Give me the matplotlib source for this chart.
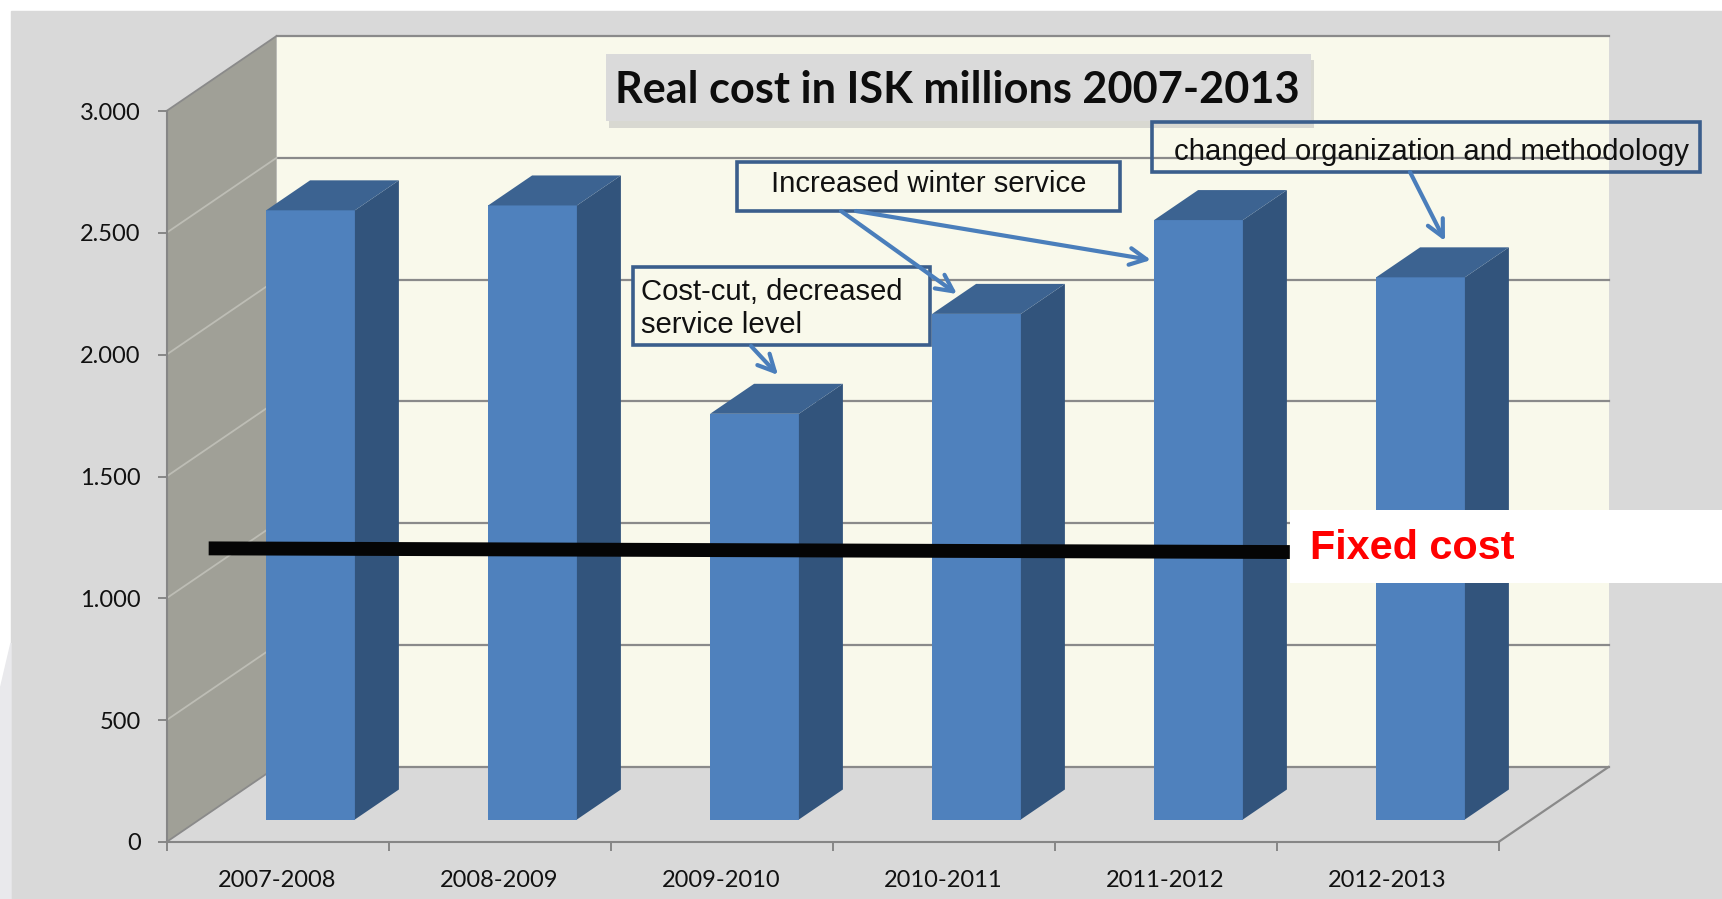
import matplotlib
matplotlib.use('Agg')
import matplotlib.pyplot as plt
from matplotlib.patches import Polygon, Rectangle
from matplotlib.ticker import FuncFormatter

plt.rcParams['font.family'] = ['Lato', 'DejaVu Sans']

seasons = ['2007-2008', '2008-2009', '2009-2010', '2010-2011', '2011-2012', '2012-2013']
real_cost = [2500, 2520, 1665, 2075, 2460, 2225]
fixed_cost = [1205, 1190]          # hand drawn line, left end / right end
y_ticks = [0, 500, 1000, 1500, 2000, 2500, 3000]

W, H = 1722, 899
fig = plt.figure(figsize=(W / 100, H / 100), dpi=100)

# pixel-space layers under and over the chart
bg = fig.add_axes([0, 0, 1, 1], zorder=0)
top = fig.add_axes([0, 0, 1, 1], zorder=2)
for a in (bg, top):
    a.set_xlim(0, W)
    a.set_ylim(H, 0)
    a.axis('off')

bg.add_patch(Rectangle((11, 11), W - 11, H - 11, color='#d9d9d9'))
bg.add_patch(Polygon([(0, 690), (11, 643), (11, H), (0, H)], color='#e9e9ec'))

# front plane of the 3d chart: x in categories, y in ISK millions
ax = fig.add_axes([166.5 / W, 1 - 842 / H, 1332 / W, 731 / H], zorder=1)
ax.set_xlim(0, 6)
ax.set_ylim(0, 3000)
ax.patch.set_visible(False)

DX = 110 / 222            # depth offset, category units
DY = 75 / 731 * 3000      # depth offset, value units
grid = '#8a8a8a'

ax.add_patch(Polygon([(0, 0), (0, 3000), (DX, 3000 + DY), (DX, DY)],
                     fc='#a0a097', ec='none', zorder=0.5, clip_on=False))
ax.add_patch(Polygon([(DX, DY), (6 + DX, DY), (6 + DX, 3000 + DY), (DX, 3000 + DY)],
                     fc='#f9f9eb', ec='none', zorder=0.5, clip_on=False))
for v in y_ticks:
    ax.plot([DX, 6 + DX], [v + DY, v + DY], color=grid, lw=1.6, zorder=0.7, clip_on=False)
    ax.plot([0, DX], [v, v + DY], color=grid if v in (0, 3000) else '#bdbdb5',
            lw=1.3, zorder=0.7, clip_on=False)
ax.plot([6, 6 + DX], [0, DY], color=grid, lw=1.6, zorder=0.7, clip_on=False)

# bars: front face with ax.bar, side and top as polygons
d0 = 0.3
bw = 0.4
base = d0 * DY
xs = [i + 0.5 - bw / 2 + d0 * DX for i in range(len(real_cost))]
ax.bar(xs, real_cost, width=bw, bottom=base, align='edge', color='#4f81bd',
       zorder=3, clip_on=False)
ddx, ddy = bw * DX, bw * DY
for x0, v in zip(xs, real_cost):
    x1 = x0 + bw
    t = base + v
    ax.add_patch(Polygon([(x1, base), (x1 + ddx, base + ddy), (x1 + ddx, t + ddy), (x1, t)],
                         fc='#32547c', ec='none', zorder=3, clip_on=False))
    ax.add_patch(Polygon([(x0, t), (x1, t), (x1 + ddx, t + ddy), (x0 + ddx, t + ddy)],
                         fc='#3c6391', ec='none', zorder=3, clip_on=False))

ax.plot([0.19, 5.06], fixed_cost, color='#050505', lw=10, solid_capstyle='butt',
        zorder=6, clip_on=False)

# axes
ax.set_yticks(y_ticks)
ax.yaxis.set_major_formatter(FuncFormatter(lambda v, p: f'{int(v):,}'.replace(',', '.')))
ax.set_xticks(range(7))
ax.set_xticklabels([])
ax.set_xticks([i + 0.5 for i in range(6)], minor=True)
ax.set_xticklabels(seasons, minor=True)
ax.tick_params(which='major', length=6.5, width=1.4, color='#868686', labelsize=17,
               labelcolor='#111111')
ax.tick_params(axis='y', pad=12)
ax.tick_params(axis='x', which='minor', length=0, pad=20, labelsize=17, labelcolor='#111111')
for s in ['top', 'right']:
    ax.spines[s].set_visible(False)
for s in ['left', 'bottom']:
    ax.spines[s].set_color('#868686')
    ax.spines[s].set_linewidth(1.5)


def fit(t, width):
    w = t.get_window_extent(fig.canvas.get_renderer()).width
    t.set_fontsize(t.get_fontsize() * width / w)


# title box with shadow
top.add_patch(Rectangle((609, 60), 705, 68, color='#b8b8b8', alpha=0.5, lw=0))
top.add_patch(Rectangle((606, 54), 705, 67, color='#dadada', lw=0))
t = top.text(615, 103, 'Real cost in ISK millions 2007-2013', fontsize=28,
             fontweight='bold', color='#0d0d0d', va='baseline')
fit(t, 683)

# fixed cost label
top.add_patch(Rectangle((1290, 510), W - 1290, 73, color='white', lw=0))
t = top.text(1310.5, 559, 'Fixed cost', fontsize=28, fontweight='bold', color='#ff0000',
             family='Liberation Sans', va='baseline')
fit(t, 205)

# annotation boxes
edge = '#3b5e8c'
top.add_patch(Rectangle((737, 162), 383, 49, fc='#f9f9eb', ec=edge, lw=2.6))
t = top.text(928.5, 191.5, 'Increased winter service', fontsize=20, ha='center',
             va='baseline', family='Liberation Sans', color='#111111')
fit(t, 315)

top.add_patch(Rectangle((632.5, 267), 297.5, 78, fc='#f9f9eb', ec=edge, lw=2.6))
t1 = top.text(641, 300, 'Cost-cut, decreased', fontsize=20, va='baseline',
              family='Liberation Sans', color='#111111')
fit(t1, 261)
top.text(641, 333, 'service level', fontsize=t1.get_fontsize(), va='baseline',
         family='Liberation Sans', color='#111111')

top.add_patch(Rectangle((1152, 122), 548, 50, fc='none', ec=edge, lw=2.6))
t = top.text(1173.5, 159.5, 'changed organization and methodology', fontsize=20,
             va='baseline', family='Liberation Sans', color='#111111')
fit(t, 512)

arrows = [((751, 346), (778, 375)), ((841, 211), (957, 294)),
          ((856, 211), (1151, 260)), ((1410, 172), (1445, 241))]
for a, b in arrows:
    top.annotate('', xy=b, xytext=a,
                 arrowprops=dict(arrowstyle='->', color='#4a7ebb', lw=3,
                                 mutation_scale=30, shrinkA=0, shrinkB=0))

fig.savefig('out.png', dpi=100)
